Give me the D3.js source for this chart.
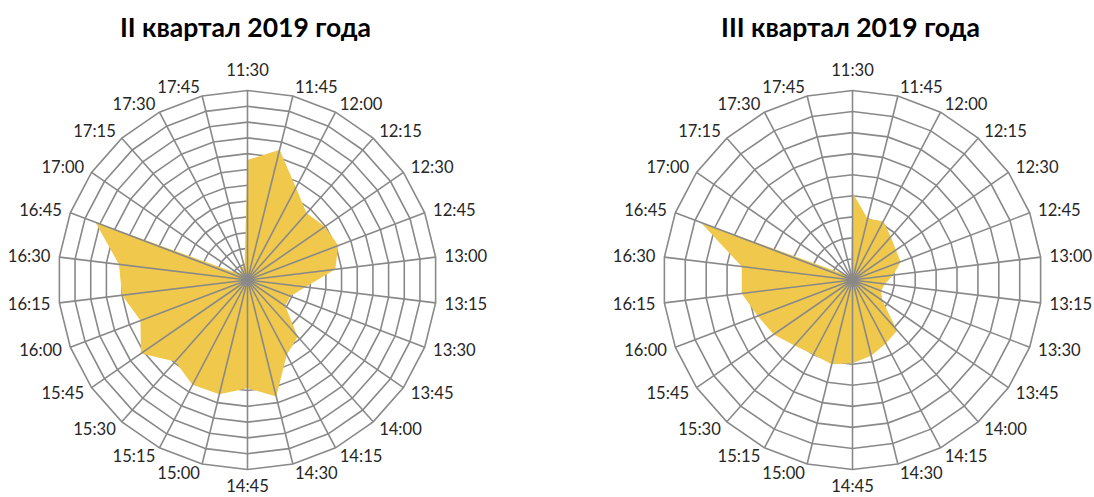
<!DOCTYPE html>
<html>
<head>
<meta charset="utf-8">
<script src="https://cdn.jsdelivr.net/npm/d3@7"></script>
<style>
  html, body { margin: 0; padding: 0; background: #ffffff; }
  svg { display: block; }
</style>
</head>
<body>
<svg id="chart" width="1094" height="497"></svg>
<script>
// Time slots around the radar (15-minute steps)
const slots = ["11:30","11:45","12:00","12:15","12:30","12:45","13:00","13:15","13:30","13:45",
  "14:00","14:15","14:30","14:45","15:00","15:15","15:30","15:45","16:00","16:15",
  "16:30","16:45","17:00","17:15","17:30","17:45"];

// Quarter II values
const q2Values = [7.6, 8.5, 6.6, 5.65, 5.95, 6.15, 5.6, 3.7, 2.9, 2.9,
  4.8, 5.35, 7.6, 6.85, 7.45, 7.5, 6.9, 8.2, 7.25, 8.0,
  8.2, 10.3, 0.7, 0.6, 1.0, 0.8];

// Quarter III values
const q3Values = [4.15, 3.0, 3.15, 2.75, 2.5, 2.45, 1.95, 1.55, 1.45, 1.72,
  3.2, 3.4, 3.7, 3.95, 4.12, 4.0, 4.15, 4.55, 4.82, 5.3,
  5.3, 7.7, 0.5, 0.3, 0.3, 0.3];

const titles = ["II квартал 2019 года", "III квартал 2019 года"];
const axisMax = [12, 9];

const svg = d3.select("#chart");
const R = 189.5;
const gridColor = "#898989";
const fillColor = "#F0C84B";
const labelFont = "Lato, 'Open Sans', sans-serif";

function drawRadar(cx, cy, title, values, maxVal) {
  const g = svg.append("g").attr("transform", `translate(${cx},${cy})`);

  const angle = d3.scaleLinear().domain([0, slots.length]).range([0, 2 * Math.PI]);
  const r = d3.scaleLinear().domain([0, maxVal]).range([0, R]);

  // Concentric polygon rings
  const ringLine = d3.lineRadial()
    .angle((d, i) => angle(i))
    .radius(d => r(d))
    .curve(d3.curveLinearClosed);

  const rings = d3.range(1, maxVal + 1);
  g.append("g").selectAll("path")
    .data(rings)
    .join("path")
    .attr("d", v => ringLine(slots.map(() => v)))
    .attr("fill", "none")
    .attr("stroke", gridColor)
    .attr("stroke-width", 1.6);

  // Data area
  g.append("path")
    .datum(values)
    .attr("d", ringLine)
    .attr("fill", fillColor)
    .attr("stroke", "none");

  // Spokes
  g.append("g").selectAll("line")
    .data(slots)
    .join("line")
    .attr("x1", 0).attr("y1", 0)
    .attr("x2", (d, i) => r(maxVal) * Math.sin(angle(i)))
    .attr("y2", (d, i) => -r(maxVal) * Math.cos(angle(i)))
    .attr("stroke", gridColor)
    .attr("stroke-width", 1.6);

  // Category labels
  g.append("g").selectAll("text")
    .data(slots)
    .join("text")
    .each(function (d, i) {
      const a = angle(i);
      const s = Math.sin(a), c = Math.cos(a);
      const ex = r(maxVal) * s, ey = -r(maxVal) * c;
      const t = d3.select(this);
      if (Math.abs(s) < 0.05) {
        t.attr("x", ex).attr("y", ey + (c > 0 ? -21 : 16)).attr("text-anchor", "middle");
      } else {
        t.attr("x", ex + 9 * s).attr("y", ey - 9 * c).attr("text-anchor", s > 0 ? "start" : "end");
      }
    })
    .attr("dominant-baseline", "central")
    .attr("font-family", labelFont)
    .attr("font-size", 16.6)
    .attr("fill", "#262626")
    .text(d => d);

  // Title
  svg.append("text")
    .attr("x", cx - 2)
    .attr("y", 27)
    .attr("text-anchor", "middle")
    .attr("dominant-baseline", "central")
    .attr("font-family", labelFont)
    .attr("font-weight", "bold")
    .attr("font-size", 26.5)
    .attr("fill", "#000000")
    .text(title);
}

drawRadar(247.5, 280, titles[0], q2Values, axisMax[0]);
drawRadar(852.5, 280, titles[1], q3Values, axisMax[1]);
</script>
</body>
</html>
